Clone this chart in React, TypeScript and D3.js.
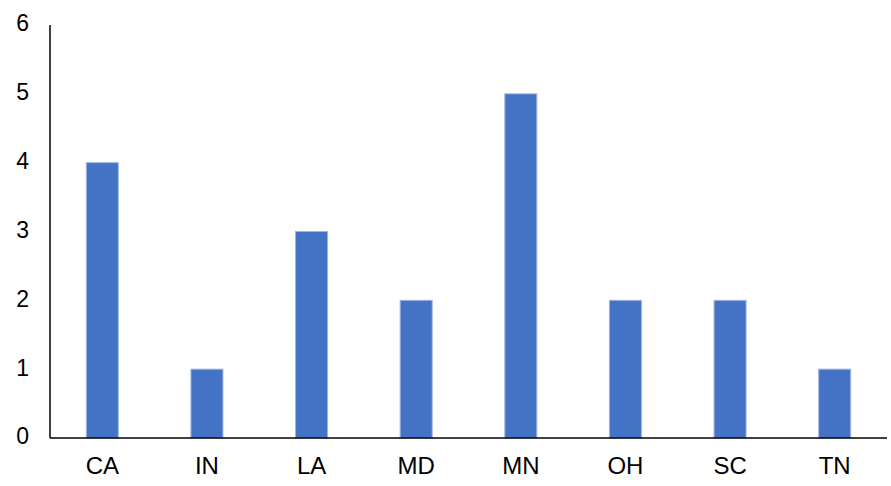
import React, { useEffect, useRef } from 'react';
import * as d3 from 'd3';

const states = ['CA', 'IN', 'LA', 'MD', 'MN', 'OH', 'SC', 'TN'];
const counts = [4, 1, 3, 2, 5, 2, 2, 1];
const yTicks = [0, 1, 2, 3, 4, 5, 6];

const App = () => {
  const svgRef = useRef<SVGSVGElement>(null);

  useEffect(() => {
    const width = 891;
    const height = 486;
    const margin = { top: 25, right: 4, bottom: 48, left: 50 };

    const svg = d3.select(svgRef.current).attr('width', width).attr('height', height);
    svg.selectAll('*').remove();

    const x = d3.scaleBand()
      .domain(states)
      .range([margin.left, width - margin.right])
      .paddingInner(0.694)
      .paddingOuter(0.347);

    const y = d3.scaleLinear()
      .domain([0, 6])
      .range([height - margin.bottom, margin.top]);

    // bars
    svg.selectAll('.bar')
      .data(states)
      .join('rect')
      .attr('class', 'bar')
      .attr('x', d => x(d)!)
      .attr('y', (d, i) => y(counts[i]))
      .attr('width', x.bandwidth())
      .attr('height', (d, i) => y(0) - y(counts[i]))
      .attr('fill', '#4472C4')
      .attr('stroke', '#9db5e3')
      .attr('stroke-width', 1);

    // axes lines
    svg.append('line')
      .attr('x1', margin.left).attr('x2', margin.left)
      .attr('y1', y(6)).attr('y2', y(0))
      .attr('stroke', '#000').attr('stroke-width', 1.5);

    svg.append('line')
      .attr('x1', margin.left).attr('x2', width - margin.right)
      .attr('y1', y(0)).attr('y2', y(0))
      .attr('stroke', '#000').attr('stroke-width', 1.5);

    // y tick labels
    svg.selectAll('.ylab')
      .data(yTicks)
      .join('text')
      .attr('class', 'ylab')
      .attr('x', 29)
      .attr('y', d => y(d))
      .attr('dy', '0.28em')
      .attr('text-anchor', 'end')
      .attr('font-family', 'Liberation Sans, Arial, sans-serif')
      .attr('font-size', 23)
      .attr('fill', '#000')
      .text(d => d);

    // x labels
    svg.selectAll('.xlab')
      .data(states)
      .join('text')
      .attr('class', 'xlab')
      .attr('x', d => x(d)! + x.bandwidth() / 2)
      .attr('y', 474)
      .attr('text-anchor', 'middle')
      .attr('font-family', 'Liberation Sans, Arial, sans-serif')
      .attr('font-size', 24)
      .attr('fill', '#000')
      .text(d => d);
  }, []);

  return <svg ref={svgRef} style={{ position: 'absolute', left: 0, top: 0 }}></svg>;
};

export default App;
